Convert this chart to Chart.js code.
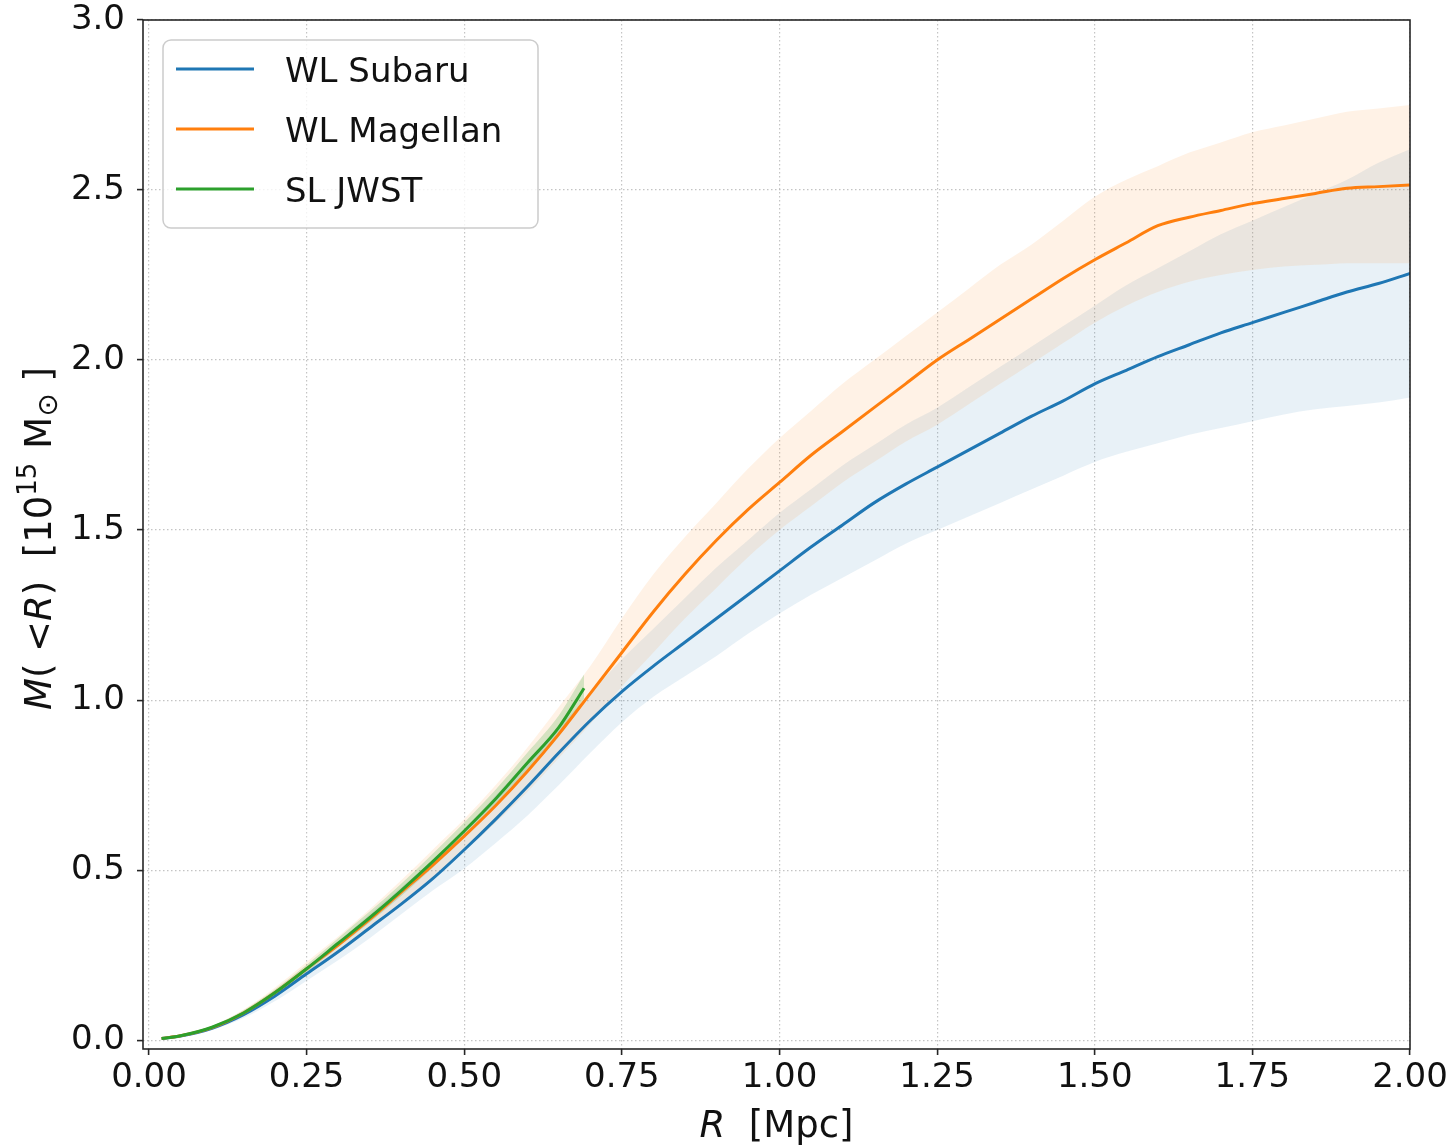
<!DOCTYPE html>
<html>
<head>
<meta charset="utf-8">
<script src="https://cdn.jsdelivr.net/npm/chart.js@4.4.0/dist/chart.umd.min.js"></script>
<style>
  html, body { margin: 0; padding: 0; background: #fff; }
  canvas { display: block; }
</style>
</head>
<body>
<canvas id="massChart" width="1455" height="1146"></canvas>
<script>
// radius grid in Mpc (WL profiles)
var radius = [0.02, 0.05, 0.10, 0.15, 0.20, 0.25, 0.30, 0.35, 0.40, 0.45,
              0.50, 0.55, 0.60, 0.65, 0.70, 0.75, 0.80, 0.85, 0.90, 0.95,
              1.00, 1.05, 1.10, 1.15, 1.20, 1.25, 1.30, 1.35, 1.40, 1.45,
              1.50, 1.55, 1.60, 1.65, 1.70, 1.75, 1.80, 1.85, 1.90, 1.95, 2.00];

// WL Subaru, M(<R) in 1e15 Msun
var subaru = [0.005, 0.012, 0.035, 0.075, 0.13, 0.195, 0.26, 0.33, 0.40, 0.475,
              0.56, 0.65, 0.745, 0.845, 0.94, 1.025, 1.10, 1.17, 1.24, 1.31,
              1.38, 1.45, 1.515, 1.58, 1.635, 1.685, 1.735, 1.785, 1.835, 1.88,
              1.93, 1.97, 2.01, 2.045, 2.08, 2.11, 2.14, 2.17, 2.20, 2.225, 2.255];
var subaruLo = [0.004, 0.010, 0.030, 0.065, 0.115, 0.175, 0.235, 0.30, 0.37, 0.44,
                0.505, 0.58, 0.66, 0.75, 0.845, 0.935, 1.01, 1.07, 1.13, 1.195,
                1.255, 1.31, 1.36, 1.41, 1.46, 1.50, 1.54, 1.58, 1.62, 1.66,
                1.70, 1.73, 1.755, 1.78, 1.80, 1.82, 1.84, 1.855, 1.865, 1.875, 1.89];
var subaruHi = [0.006, 0.014, 0.040, 0.085, 0.145, 0.215, 0.29, 0.37, 0.45, 0.53,
                0.62, 0.72, 0.82, 0.92, 1.02, 1.12, 1.21, 1.30, 1.39, 1.47,
                1.55, 1.62, 1.69, 1.75, 1.81, 1.86, 1.92, 1.98, 2.04, 2.10,
                2.16, 2.22, 2.27, 2.32, 2.37, 2.41, 2.45, 2.49, 2.53, 2.58, 2.62];

// WL Magellan
var magellan = [0.005, 0.013, 0.037, 0.08, 0.14, 0.21, 0.28, 0.355, 0.435, 0.515,
                0.60, 0.69, 0.79, 0.90, 1.02, 1.14, 1.26, 1.37, 1.47, 1.56,
                1.64, 1.72, 1.79, 1.86, 1.93, 2.00, 2.06, 2.12, 2.18, 2.24,
                2.295, 2.345, 2.395, 2.42, 2.44, 2.46, 2.475, 2.49, 2.505, 2.51, 2.515];
var magellanLo = [0.004, 0.011, 0.033, 0.072, 0.126, 0.19, 0.255, 0.325, 0.40, 0.475,
                  0.555, 0.64, 0.73, 0.83, 0.93, 1.04, 1.14, 1.24, 1.33, 1.42,
                  1.50, 1.57, 1.64, 1.70, 1.76, 1.81, 1.87, 1.93, 1.99, 2.05,
                  2.11, 2.16, 2.20, 2.23, 2.25, 2.265, 2.275, 2.28, 2.285, 2.285, 2.285];
var magellanHi = [0.006, 0.015, 0.042, 0.09, 0.155, 0.23, 0.305, 0.385, 0.47, 0.56,
                  0.65, 0.75, 0.86, 0.98, 1.10, 1.24, 1.37, 1.48, 1.58, 1.68,
                  1.77, 1.85, 1.93, 2.00, 2.07, 2.14, 2.21, 2.28, 2.34, 2.41,
                  2.48, 2.53, 2.57, 2.61, 2.64, 2.67, 2.69, 2.71, 2.73, 2.74, 2.75];

// SL JWST, shorter radial range
var radiusSL = [0.02, 0.05, 0.10, 0.15, 0.20, 0.25, 0.30, 0.35, 0.40, 0.45,
                0.50, 0.55, 0.60, 0.65, 0.69];
var jwst   = [0.005, 0.013, 0.038, 0.08, 0.14, 0.21, 0.285, 0.36, 0.44, 0.525,
              0.615, 0.71, 0.815, 0.92, 1.035];
var jwstLo = [0.004, 0.011, 0.034, 0.074, 0.132, 0.20, 0.273, 0.346, 0.424, 0.507,
              0.595, 0.688, 0.79, 0.893, 1.005];
var jwstHi = [0.006, 0.015, 0.042, 0.088, 0.15, 0.222, 0.30, 0.378, 0.46, 0.548,
              0.64, 0.737, 0.845, 0.955, 1.075];

var xTicks = [0, 0.25, 0.5, 0.75, 1.0, 1.25, 1.5, 1.75, 2.0];
var xTickLabels = ['0.00', '0.25', '0.50', '0.75', '1.00', '1.25', '1.50', '1.75', '2.00'];
var yTicks = [0, 0.5, 1.0, 1.5, 2.0, 2.5, 3.0];
var yTickLabels = ['0.0', '0.5', '1.0', '1.5', '2.0', '2.5', '3.0'];

var FONT = '"DejaVu Sans", "Liberation Sans", sans-serif';

function pts(xs, ys) {
  return xs.map(function (x, i) { return { x: x, y: ys[i] }; });
}

function lineSet(label, xs, ys, color) {
  return { label: label, data: pts(xs, ys), borderColor: color, borderWidth: 3,
           pointRadius: 0, fill: false };
}
function bandSet(xs, ys, fillColor, isTop) {
  return { label: '', data: pts(xs, ys), borderWidth: 0, borderColor: 'rgba(0,0,0,0)',
           pointRadius: 0, backgroundColor: fillColor, fill: isTop ? '-1' : false };
}

// frame, legend box and axis titles
var decor = {
  id: 'decor',
  afterDraw: function (chart) {
    var ctx = chart.ctx, a = chart.chartArea;
    ctx.save();
    ctx.strokeStyle = '#262626';
    ctx.lineWidth = 1.6;
    ctx.strokeRect(a.left, a.top, a.right - a.left, a.bottom - a.top);

    // legend
    var bx = 163, by = 40, bw = 375, bh = 188, r = 8;
    ctx.beginPath();
    ctx.moveTo(bx + r, by);
    ctx.arcTo(bx + bw, by, bx + bw, by + bh, r);
    ctx.arcTo(bx + bw, by + bh, bx, by + bh, r);
    ctx.arcTo(bx, by + bh, bx, by, r);
    ctx.arcTo(bx, by, bx + bw, by, r);
    ctx.closePath();
    ctx.fillStyle = 'rgba(255,255,255,0.8)';
    ctx.fill();
    ctx.strokeStyle = 'rgba(204,204,204,1)';
    ctx.lineWidth = 1.5;
    ctx.stroke();
    var order = ['WL Subaru', 'WL Magellan', 'SL JWST'];
    ctx.font = '34px ' + FONT;
    ctx.textBaseline = 'alphabetic';
    ctx.fillStyle = '#111';
    order.forEach(function (name, i) {
      var ds = chart.data.datasets.filter(function (d) { return d.label === name; })[0];
      var yy = 69 + i * 60;
      ctx.beginPath();
      ctx.moveTo(176, yy);
      ctx.lineTo(254, yy);
      ctx.strokeStyle = ds.borderColor;
      ctx.lineWidth = 3;
      ctx.stroke();
      ctx.fillText(name, 285, yy + 13);
    });

    // x title
    ctx.fillStyle = '#111';
    var p1 = 'R', p2 = '  [Mpc]';
    ctx.font = 'italic 37px ' + FONT;
    var w1 = ctx.measureText(p1).width;
    ctx.font = '37px ' + FONT;
    var w2 = ctx.measureText(p2).width;
    var sx = (a.left + a.right) / 2 - (w1 + w2) / 2;
    ctx.font = 'italic 37px ' + FONT;
    ctx.fillText(p1, sx, 1137);
    ctx.font = '37px ' + FONT;
    ctx.fillText(p2, sx + w1, 1137);

    // y title, drawn upward from the bottom end
    var parts = [
      ['M', 'italic 37px', 0], ['( ', '37px', 0], ['<', '37px', 0], ['R', 'italic 37px', 0],
      [')', '37px', 0], ['  [10', '37px', 0], ['15', '26px', -15], ['  ', '22px', 0],
      ['M', '37px', 0], ['\u2299', '28px', 6], [' ]', '37px', 0]
    ];
    ctx.translate(51, 710);
    ctx.rotate(-Math.PI / 2);
    var cx = 0;
    parts.forEach(function (p) {
      ctx.font = p[1] + ' ' + FONT;
      ctx.fillText(p[0], cx, p[2]);
      cx += ctx.measureText(p[0]).width;
    });
    ctx.restore();
  }
};

var gridStyle = {
  color: 'rgba(176,176,176,0.75)',
  lineWidth: 1.2,
  tickColor: '#262626',
  tickWidth: 1.6,
  tickLength: 6,
  drawTicks: true
};

new Chart(document.getElementById('massChart'), {
  type: 'line',
  data: {
    datasets: [
      lineSet('SL JWST', radiusSL, jwst, '#2ca02c'),
      lineSet('WL Magellan', radius, magellan, '#ff7f0e'),
      lineSet('WL Subaru', radius, subaru, '#1f77b4'),
      bandSet(radiusSL, jwstLo, 'rgba(44,160,44,0.2)', false),
      bandSet(radiusSL, jwstHi, 'rgba(44,160,44,0.2)', true),
      bandSet(radius, magellanLo, 'rgba(255,127,14,0.1)', false),
      bandSet(radius, magellanHi, 'rgba(255,127,14,0.1)', true),
      bandSet(radius, subaruLo, 'rgba(31,119,180,0.1)', false),
      bandSet(radius, subaruHi, 'rgba(31,119,180,0.1)', true)
    ]
  },
  options: {
    responsive: false,
    animation: false,
    layout: { padding: { top: 20, right: 45, left: 0, bottom: 0 } },
    plugins: { legend: { display: false }, tooltip: { enabled: false } },
    elements: { line: { cubicInterpolationMode: 'monotone' } },
    scales: {
      x: {
        type: 'linear', min: -0.0095, max: 2.0,
        grid: gridStyle,
        border: { display: false, dash: [1.5, 2.5] },
        afterBuildTicks: function (s) { s.ticks = xTicks.map(function (v) { return { value: v }; }); },
        afterFit: function (s) { s.height = 97; s.paddingLeft = 0; s.paddingRight = 0; },
        ticks: {
          font: { family: FONT, size: 34 }, color: '#111', padding: 3, maxRotation: 0,
          callback: function (v, i) { return xTickLabels[i]; }
        }
      },
      y: {
        type: 'linear', min: -0.026, max: 3.0,
        grid: gridStyle,
        border: { display: false, dash: [1.5, 2.5] },
        afterBuildTicks: function (s) { s.ticks = yTicks.map(function (v) { return { value: v }; }); },
        afterFit: function (s) { s.width = 143; s.paddingTop = 0; s.paddingBottom = 0; },
        ticks: {
          font: { family: FONT, size: 34 }, color: '#111', padding: 12,
          callback: function (v, i) { return yTickLabels[i]; }
        }
      }
    }
  },
  plugins: [decor]
});
</script>
</body>
</html>
